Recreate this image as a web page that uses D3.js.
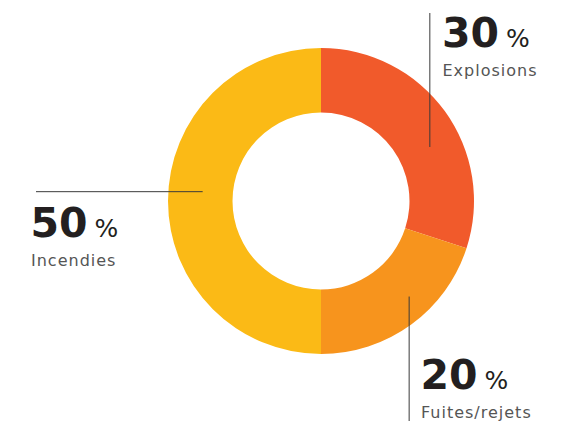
<!DOCTYPE html>
<html><head><meta charset="utf-8">
<script src="https://cdn.jsdelivr.net/npm/d3@7"></script>
<style>html,body{margin:0;padding:0;background:#fff;}svg{display:block;}</style>
</head><body>
<svg id="c" width="573" height="424"></svg>
<script>
const categories = ["Explosions", "Fuites/rejets", "Incendies"];
const values = [30, 20, 50];
const colors = ["#F15A2B", "#F7941D", "#FBBA16"];

const W = 573, H = 424, cx = 321, cy = 201, rOuter = 153, rInner = 88.5;
const svg = d3.select("#c");
const g = svg.append("g").attr("transform", `translate(${cx},${cy})`);

const pie = d3.pie().sort(null).value(d => d.v)(categories.map((c, i) => ({c, v: values[i], col: colors[i]})));
const arc = d3.arc().innerRadius(rInner).outerRadius(rOuter);
g.selectAll("path").data(pie).join("path").attr("d", arc).attr("fill", d => d.data.col);

// leader lines: anchor inside slice (fraction of slice angle, radius), then straight line to label area
const leaders = [
  {frac: 0.589, r: 121.5, dir: "up", to: 13},
  {frac: 0.407, r: 130, dir: "down", to: 421},
  {frac: 0.525, r: 118.7, dir: "left", to: 36}
];
const labelPos = [
  {x: 442, y: 47},
  {x: 420.5, y: 389.3},
  {x: 30.5, y: 237.3}
];
pie.forEach((p, i) => {
  const L = leaders[i];
  const a = p.startAngle + (p.endAngle - p.startAngle) * L.frac;
  const x = cx + L.r * Math.sin(a), y = cy - L.r * Math.cos(a);
  let x2 = x, y2 = y;
  if (L.dir === "up" || L.dir === "down") y2 = L.to; else x2 = L.to;
  svg.append("line").attr("x1", x).attr("y1", y).attr("x2", x2).attr("y2", y2)
    .attr("stroke", "#3a3a3a").attr("stroke-width", 1);
  const t = svg.append("text").attr("x", labelPos[i].x).attr("y", labelPos[i].y)
    .attr("font-family", "DejaVu Sans").attr("fill", "#231F20");
  t.append("tspan").attr("font-size", 41).attr("font-weight", "bold").text(p.data.v);
  t.append("tspan").attr("dx", 7).attr("font-size", 25).attr("font-weight", "normal").text("%");
  svg.append("text").attr("x", labelPos[i].x + 0.5).attr("y", labelPos[i].y + 28.5)
    .attr("font-family", "DejaVu Sans").attr("font-size", 16).attr("letter-spacing", 1)
    .attr("fill", "#555555").text(p.data.c);
});
</script>
</body></html>
